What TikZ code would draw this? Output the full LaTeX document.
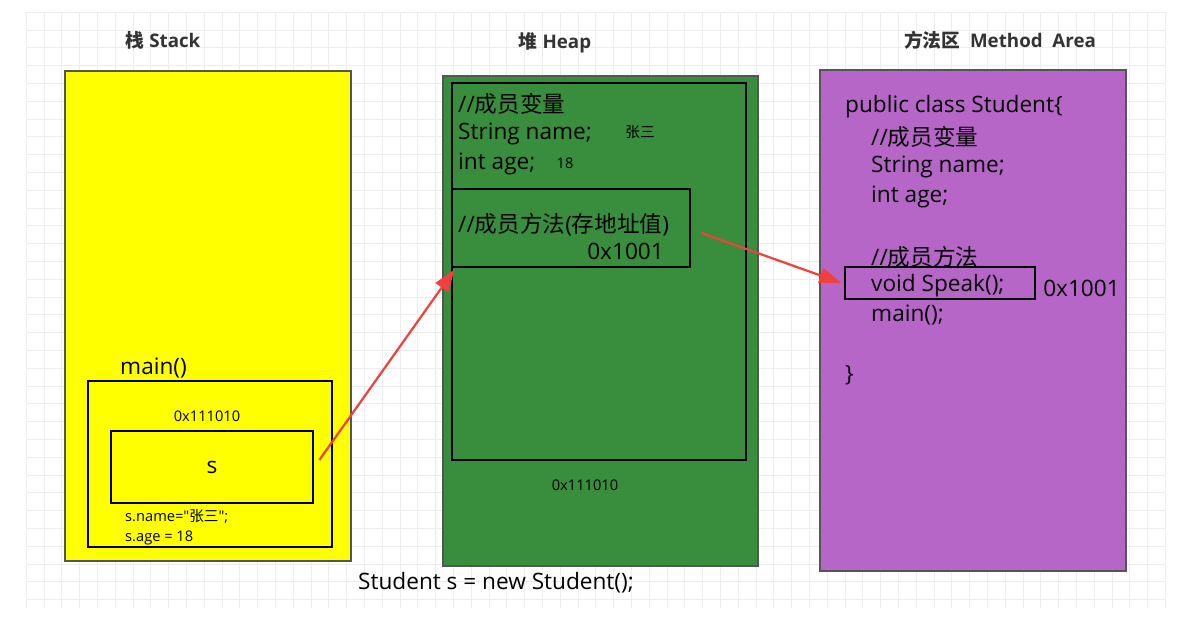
\documentclass[tikz,border=0pt]{standalone}
\usepackage{fontspec}
\setmainfont{Open Sans}[Ligatures=TeXOff]
\newfontfamily\cjk{Noto Sans CJK SC}
\usetikzlibrary{arrows.meta,fit}

\definecolor{stackyellow}{RGB}{255,255,0}
\definecolor{heapgreen}{RGB}{56,142,60}
\definecolor{areapurple}{RGB}{182,102,198}
\definecolor{arrowred}{RGB}{240,64,64}
\definecolor{edgegray}{RGB}{85,85,85}

\tikzset{
  region/.style={draw=edgegray,line width=1.5pt,inner sep=0pt},
  frame/.style={draw=black,line width=2.3pt,inner sep=0pt},
  title/.style={font=\fontsize{16}{19}\selectfont\bfseries,text=black!80},
  code/.style={font=\fontsize{19.3}{23}\selectfont,inner sep=0pt,anchor=west,yshift=-2.5pt},
  small/.style={font=\fontsize{12.5}{15}\selectfont,inner sep=0pt,yshift=-1pt},
  ref/.style={-{Triangle[length=19pt,width=13pt]},arrowred,line width=1.9pt},
  gridline/.style={gray!14,line width=0.5pt}
}

\begin{document}
\begin{tikzpicture}[x=0.03cm,y=-0.03cm]
\useasboundingbox (0,0) rectangle (1186,626);
% grid
\foreach \i in {0,...,64}
  \draw[gridline] ({26+\i*17.8},12) -- ({26+\i*17.8},608);
\foreach \j in {0,...,33}
  \draw[gridline] (26,{12+\j*17.8}) -- (1165,{12+\j*17.8});

% titles
\node[title] (t1) at (163,40) {{\cjk 栈} Stack};
\node[title] (t2) at (555,43) {{\cjk 堆} Heap};
\node[title] (t3) at (1000,40) {{\cjk 方法区}\ \ Method\ \ Area};

% stack
\node[region,fill=stackyellow,fit={(65,71)(351,561)}] (stack) {};
\node[code] (mainlbl) at (120,365) {main()};
\node[frame,fit={(88,381)(332,547)}] (mainframe) {};
\node[small] (addr1) at (207,415) {0x111010};
\node[frame,fit={(111,431)(313,503)}] (sref) {};
\node[code,anchor=center] (svar) at (212,465) {s};
\node[small,anchor=west] (sname) at (125,515) {s.name="{\cjk 张三}";};
\node[small,anchor=west] (sage) at (125,537) {s.age = 18};

% heap
\node[region,fill=heapgreen,fit={(443,76)(758,566)}] (heap) {};
\node[frame,fit={(452,83)(746,460)}] (heapobj) {};
\node[code] (h1) at (458,101) {//{\cjk 成员变量}};
\node[code] (h2) at (458,131) {String name;};
\node[small] (hname) at (640,131) {\cjk 张三};
\node[code] (h3) at (458,161) {int age;};
\node[small] (hage) at (565,162) {18};
\node[frame,fit={(452,189)(690,267)}] (methodbox) {};
\node[code] (h4) at (458,222) {//{\cjk 成员方法}({\cjk 存地址值})};
\node[code,anchor=east] (h5) at (664,248) {0x1001};
\node[small] (addr2) at (585,484) {0x111010};

% method area
\node[region,fill=areapurple,fit={(820,70)(1126,571)}] (area) {};
\node[code] (m1) at (845,104) {public class Student\{};
\node[code] (m2) at (871,134) {//{\cjk 成员变量}};
\node[code] (m3) at (871,164) {String name;};
\node[code] (m4) at (871,194) {int age;};
\node[code] (m5) at (871,254) {//{\cjk 成员方法}};
\node[frame,fit={(845,267)(1035,299)}] (speak) {};
\node[code] (m6) at (871,283) {void Speak();};
\node[code] (m7) at (871,312) {main();};
\node[code] (m8) at (845,372) {\}};
\node[code] (m9) at (1043,285) {0x1001};

\node[code,anchor=center] (newobj) at (496,580) {Student s = new Student();};

% references
\draw[ref] ([shift={(5,-7)}]sref.east) -- ([shift={(4,1)}]methodbox.south west);
\draw[ref] ([shift={(10,5)}]methodbox.east) -- ([shift={(-2,0)}]speak.west);
\end{tikzpicture}
\end{document}
